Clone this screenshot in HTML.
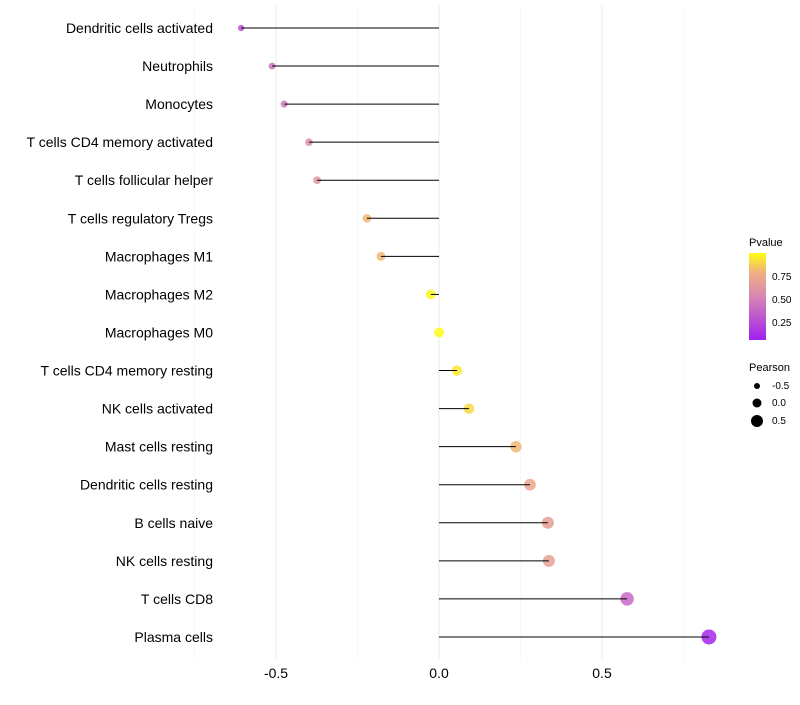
<!DOCTYPE html>
<html><head><meta charset="utf-8"><style>
body{margin:0;background:#fff;font-family:"Liberation Sans",sans-serif}
</style></head><body>
<svg id="chart" width="800" height="700" xmlns="http://www.w3.org/2000/svg">
<defs><linearGradient id="pg" x1="0" y1="1" x2="0" y2="0">
<stop offset="0" stop-color="#a020f0"/><stop offset="0.5" stop-color="#d886b4"/><stop offset="0.78" stop-color="#f0b07e"/><stop offset="1" stop-color="#ffff10"/>
</linearGradient></defs>
<g id="grid"></g><g id="dots"></g><g id="marks"></g><g id="labels"></g>
<g font-size="10">
<text x="749" y="246" font-size="11">Pvalue</text>
<rect x="749" y="253" width="17" height="87" fill="url(#pg)"/>
<text x="772" y="280">0.75</text><text x="772" y="303">0.50</text><text x="772" y="326">0.25</text>
</g>
<g font-size="10">
<text x="749" y="371" font-size="11">Pearson</text>
<circle cx="757" cy="386" r="3"/><text x="772" y="389">-0.5</text>
<circle cx="757" cy="403" r="4.5"/><text x="772" y="406">0.0</text>
<circle cx="757" cy="421" r="6"/><text x="772" y="424">0.5</text>
</g>
</svg>
<script>
const categories=["Dendritic cells activated","Neutrophils","Monocytes","T cells CD4 memory activated","T cells follicular helper","T cells regulatory  Tregs","Macrophages M1","Macrophages M2","Macrophages M0","T cells CD4 memory resting","NK cells activated","Mast cells resting","Dendritic cells resting","B cells naive","NK cells resting","T cells CD8","Plasma cells"];
const pearson=[-0.607,-0.512,-0.475,-0.399,-0.374,-0.221,-0.178,-0.025,0.0,0.055,0.092,0.236,0.279,0.334,0.337,0.577,0.828];
const pvalue=[0.3,0.45,0.5,0.6,0.62,0.8,0.8,0.98,1.0,0.95,0.9,0.8,0.72,0.68,0.68,0.4,0.1];
const xTicks=[-0.5,0.0,0.5];
const xTickLabels=["-0.5","0.0","0.5"];
const ns="http://www.w3.org/2000/svg";
const X=v=>439+v*326;
const Y=i=>28+i*38.06;
const R=v=>Math.max(1.5,5+3*v);
function lerp(a,b,t){return a.map((x,i)=>Math.round(x+(b[i]-x)*t));}
const stops=[[0.07,[160,32,240]],[0.535,[216,134,180]],[0.78,[240,176,126]],[1.01,[255,255,16]]];
function col(p){for(let i=0;i<stops.length-1;i++){if(p<=stops[i+1][0]){const t=Math.max(0,(p-stops[i][0])/(stops[i+1][0]-stops[i][0]));const c=lerp(stops[i][1],stops[i+1][1],t);return `rgb(${c})`;}}return "rgb(255,255,16)";}
function mk(t,a,p){const e=document.createElementNS(ns,t);for(const k in a)e.setAttribute(k,a[k]);p.appendChild(e);return e;}
const grid=document.getElementById('grid'),marks=document.getElementById('marks'),dots=document.getElementById('dots'),labels=document.getElementById('labels');
[-0.75,-0.25,0.25,0.75].forEach(v=>{const l=mk('line',{x1:X(v),x2:X(v),y1:5,y2:660,stroke:'#f3f3f3','stroke-width':0.6},grid);

});
xTicks.forEach((v,i)=>{const l=mk('line',{x1:X(v),x2:X(v),y1:5,y2:660,stroke:'#ebebeb','stroke-width':1},grid);


const t=mk('text',{x:X(v),y:678,'text-anchor':'middle','font-size':14,fill:'#000'},labels);t.textContent=xTickLabels[i];

});
categories.forEach((c,i)=>{const t=mk('text',{x:213,y:Y(i)+5,'text-anchor':'end','font-size':14,fill:'#000'},labels);t.textContent=c;


const d=mk('circle',{cx:X(pearson[i]),cy:Y(i),r:R(pearson[i]),fill:col(pvalue[i]),'fill-opacity':0.85},dots);


const l=mk('line',{x1:X(0),x2:X(pearson[i]),y1:Y(i),y2:Y(i),stroke:'#000','stroke-width':1},marks);

});
</script>
</body></html>
